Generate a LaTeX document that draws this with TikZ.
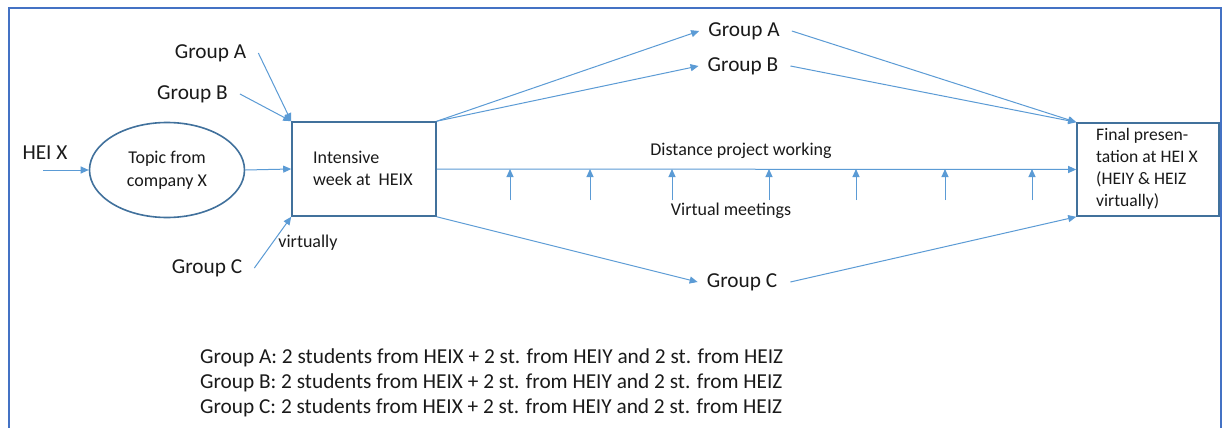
\documentclass[tikz,border=0pt]{standalone}
\usepackage{fontspec}
\setmainfont{Carlito}
\usetikzlibrary{arrows.meta,shapes.geometric,calc}
\definecolor{arrblue}{HTML}{5B9BD5}
\definecolor{boxblue}{HTML}{41719C}
\definecolor{frameblue}{HTML}{4472C4}
\definecolor{txt}{HTML}{1A1A1A}
\tikzset{
  arr/.style={draw=arrblue, line width=1pt, -{Triangle[length=8pt,width=7pt]}},
  lbl/.style={text=txt, inner sep=0pt, font=\fontsize{21.3}{25}\selectfont},
  small/.style={text=txt, inner sep=0pt, font=\fontsize{18}{22}\selectfont},
  boxnode/.style={draw=boxblue, line width=1.6pt, rectangle, inner sep=0pt},
  ellnode/.style={draw=boxblue, line width=1.6pt, ellipse, inner sep=0pt, text=txt, align=center,
     minimum width=155pt, minimum height=95pt, font=\fontsize{18}{23}\selectfont},
  frame/.style={draw=frameblue, line width=2pt}
}
\begin{document}
\begin{tikzpicture}[x=1pt,y=-1pt]
\useasboundingbox (0,0) rectangle (1224,428);
\fill[white] (0,0) rectangle (1224,428);
\draw[frame] (9,440) -- (9,8) -- (1221,8) -- (1221,440);

% nodes
\node[lbl] (hei) at (45,153) {HEI X};
\node[ellnode] (topic) at (167,170) {Topic from\\company X};
\node[boxnode, minimum width=144pt, minimum height=94pt] (iw) at (364,169) {};
\node[small, anchor=west, align=left] (iwt) at (313,168) {Intensive\\week at\ \ HEIX};
\node[boxnode, minimum width=142pt, minimum height=93pt] (fp) at (1148,169.5) {};
\node[small, anchor=west, align=left, font=\fontsize{17.6}{22}\selectfont] (fpt) at (1096,169) {Final presen-\\tation at HEI X\\(HEIY \& HEIZ\\virtually)};

\node[lbl] (gA) at (210.5,53) {Group A};
\node[lbl] (gB) at (192.5,94) {Group B};
\node[lbl] (gC) at (207,268) {Group C};
\node[small] (virt) at (308,243) {virtually};

\node[lbl] (gA2) at (744,31) {Group A};
\node[lbl] (gB2) at (743,66) {Group B};
\node[lbl] (gC2) at (742,282) {Group C};

\node[small] (dpw) at (741,151) {Distance project working};
\node[small] (vmt) at (731,211) {Virtual meetings};

\node[lbl, anchor=base west, align=left, font=\fontsize{21.3}{25}\selectfont] (legend) at (200,413)
 {Group A: 2 students from HEIX + 2 st. from HEIY and 2 st. from HEIZ\\
  Group B: 2 students from HEIX + 2 st. from HEIY and 2 st. from HEIZ\\
  Group C: 2 students from HEIX + 2 st. from HEIY and 2 st. from HEIZ};

% connectors
\draw[arr] ([xshift=-2pt,yshift=-17pt]hei.center) -- (topic.west);
\draw[arr] (topic.east) -- (iw.west);
\draw[arr] ([xshift=12pt]gA.east) -- (iw.north west);
\draw[arr] ([xshift=12pt]gB.east) -- (iw.north west);
\draw[arr] ([xshift=12pt]gC.east) -- (iw.south west);

\draw[arr] (iw.north east) -- ([xshift=-9pt]gA2.west);
\draw[arr] (iw.north east) -- ([xshift=-9pt]gB2.west);
\draw[arr] (iw.south east) -- ([xshift=-9pt]gC2.west);
\draw[arr] (iw.east) -- (fp.west);

\draw[arr] ([xshift=12pt]gA2.east) -- (fp.north west);
\draw[arr] ([xshift=12pt]gB2.east) -- (fp.north west);
\draw[arr] ([xshift=13pt]gC2.east) -- (fp.south west);

\foreach \i/\x in {1/510,2/590,3/672,4/769,5/856,6/945,7/1032}{
  \coordinate (vm\i) at (\x,200);
  \draw[arr] (vm\i) -- (vm\i |- iw.east);
}
\end{tikzpicture}
\end{document}
